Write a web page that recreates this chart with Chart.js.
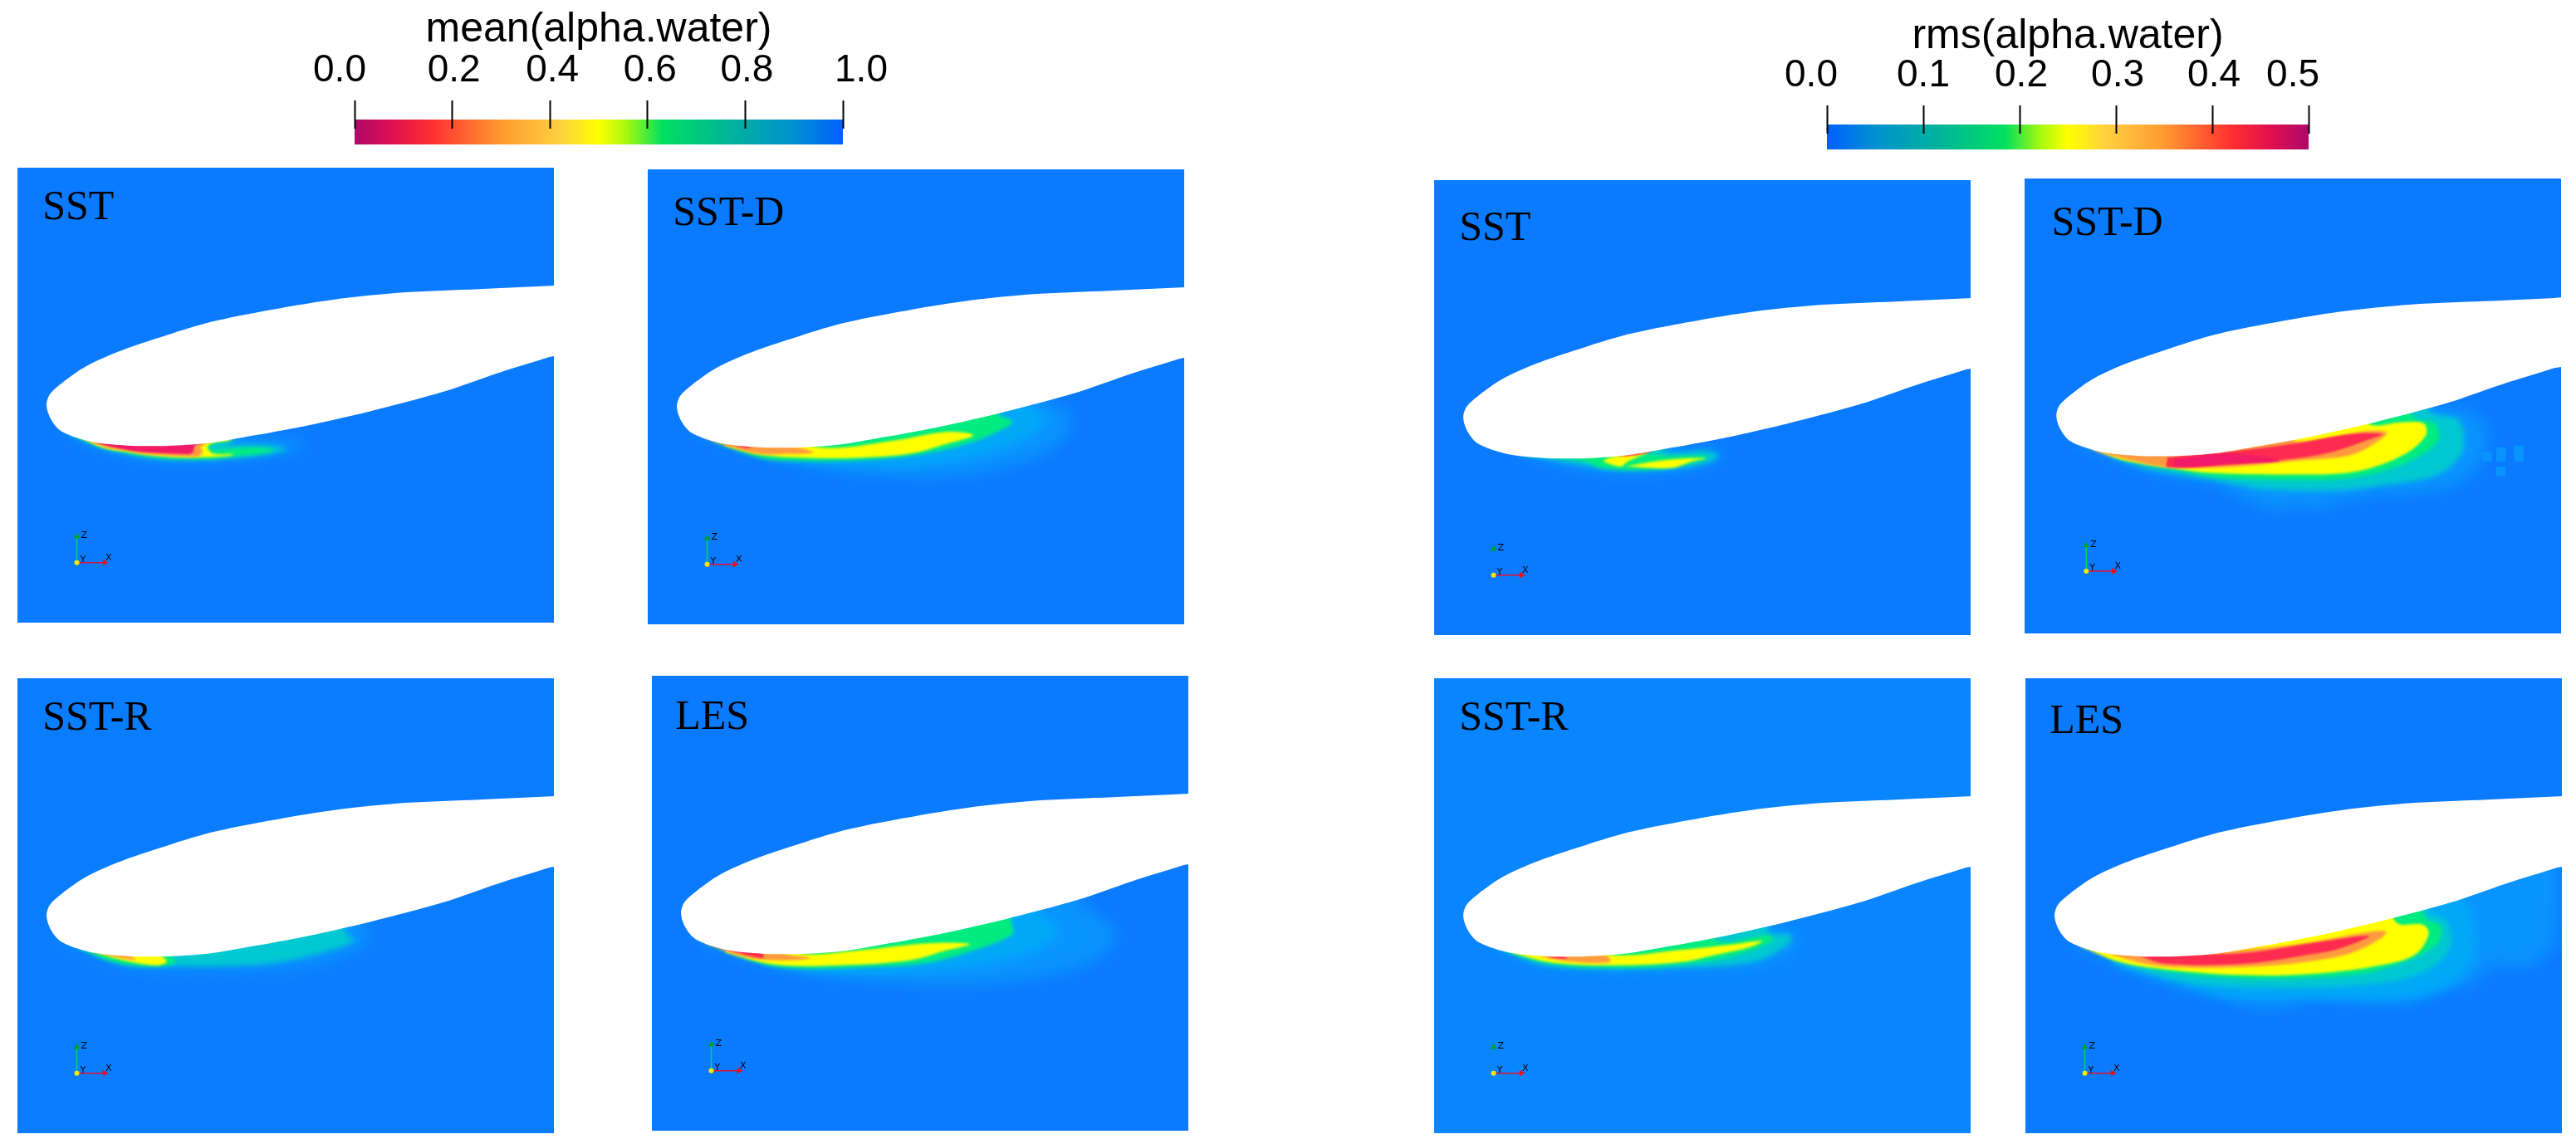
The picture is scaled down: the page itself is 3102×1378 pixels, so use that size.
<!DOCTYPE html>
<html>
<head>
<meta charset="utf-8">
<title>alpha.water contours</title>
<script src="https://cdn.jsdelivr.net/npm/chart.js@4/dist/chart.umd.js"></script>
<style>
html, body { margin: 0; padding: 0; background: #fff; width: 3102px; height: 1378px; overflow: hidden; }
canvas { position: absolute; display: block; }
</style>
</head>
<body>
<script>
// colour bars
const meanTicks = [0, 0.2, 0.4, 0.6, 0.8, 1];
const meanTickLabels = ['0.0', '0.2', '0.4', '0.6', '0.8', '1.0'];
const rmsTicks = [0, 0.1, 0.2, 0.3, 0.4, 0.5];
const rmsTickLabels = ['0.0', '0.1', '0.2', '0.3', '0.4', '0.5'];
const mapStops = [0, 0.08, 0.16, 0.3, 0.42, 0.5, 0.56, 0.63, 0.78, 0.9, 1];
const mapColors = ['#b0086a', '#e0104e', '#ff3030', '#ff9a30', '#ffd040', '#ffff00', '#a0f810', '#00e060', '#00b0a0', '#0090d0', '#0060ff'];

// foil outline, same in every panel (x, y in panel units)
const foilOutline = [[660,139],[646,140],[559,144],[470,148],[381,157],[291,172],[225,186],[158,207],[113,223],[77,240],[50,259],[35,273],[31,286],[35,301],[46,316],[62,324],[91,332],[135,336],[180,336],[225,333],[269,326],[336,314],[425,294],[515,270],[582,247],[646,227],[660,222]];

// iso regions, mean panels
const meanSstHalo = [[56,320],[92,338],[122,346],[152,353],[196,355],[262,353],[312,346],[346,338],[339,330],[296,326],[262,321],[230,300],[60,300]];
const meanSstCyan = [[58,320],[95,337],[125,345],[160,351],[200,353],[260,351],[300,347],[325,340],[300,335],[270,335],[250,333],[262,325],[240,315],[60,300]];
const meanSstGreen = [[62,322],[96,336],[126,344],[152,349],[189,352],[236,352],[262,349],[296,345],[309,341],[282,338],[249,340],[236,341],[229,337],[236,333],[259,327],[229,311],[62,311]];
const meanSstYellow = [[66,323],[99,338],[126,343],[152,347],[189,350],[226,350],[256,348],[259,346],[236,346],[229,341],[228,336],[236,332],[256,328],[229,311],[62,311]];
const meanSstOrange = [[69,323],[101,337],[129,342],[152,346],[196,349],[216,349],[222,343],[219,338],[226,333],[229,330],[196,311],[69,311]];
const meanSstCrimson = [[69,323],[101,335],[129,341],[152,344],[196,346],[209,345],[212,336],[221,331],[196,311],[69,311]];

const meanSstdHalo = [[55,319],[155,351],[250,367],[359,371],[445,356],[502,327],[510,293],[480,278],[480,250],[60,300]];
const meanSstdGlow = [[150,347],[215,356],[337,356],[415,341],[467,319],[480,301],[458,282],[440,240],[60,300]];
const meanSstdGreen = [[77,329],[133,349],[185,353],[268,351],[337,343],[393,329],[432,312],[441,304],[424,295],[400,250],[60,300]];
const meanSstdYellow = [[90,334],[133,345],[198,349],[268,348],[320,343],[359,332],[393,321],[359,317],[294,328],[207,336],[120,312],[90,310]];
const meanSstdOrange = [[64,324],[98,336],[133,344],[163,344],[198,342],[172,334],[120,319],[100,300]];
const meanSstdRed = [[59,321],[98,332],[120,336],[120,320],[60,305]];

const meanSstrHalo = [[50,315],[126,346],[202,352],[314,351],[381,339],[425,315],[417,300],[400,260],[60,300]];
const meanSstrCyan = [[55,317],[126,346],[180,348],[291,346],[358,334],[408,317],[399,310],[380,280],[60,300]];
const meanSstrGreen = [[62,321],[113,343],[167,348],[189,343],[180,334],[113,310],[62,300]];
const meanSstrYellow = [[64,322],[118,339],[164,347],[178,342],[160,330],[100,305]];
const meanSstrOrange = [[60,320],[100,333],[140,340],[113,325],[65,305]];

const meanLesHalo = [[50,319],[150,353],[288,371],[418,371],[527,349],[562,312],[527,279],[500,250],[60,300]];
const meanLesGlow = [[147,351],[223,360],[332,356],[418,345],[475,327],[492,304],[470,286],[450,245],[100,300]];
const meanLesGreen = [[58,321],[128,348],[180,354],[262,352],[332,347],[397,329],[436,312],[436,303],[420,260],[60,300]];
const meanLesYellow = [[85,334],[145,349],[223,350],[310,344],[354,332],[384,324],[332,323],[245,332],[180,336],[115,319],[100,310]];
const meanLesOrange = [[63,324],[110,340],[158,344],[189,341],[158,336],[115,319],[70,305]];
const meanLesRed = [[61,323],[106,336],[132,340],[115,320],[65,305]];

// iso regions, rms panels
const rmsSstHalo = [[93,329],[123,338],[175,350],[227,355],[297,351],[340,340],[349,329],[331,325],[288,322],[288,280],[100,300]];
const rmsSstCyan = [[101,331],[136,337],[171,344],[227,351],[297,348],[336,339],[342,331],[327,327],[275,326],[280,280],[100,300]];
const rmsSstGreen = [[106,332],[140,335],[180,340],[201,348],[253,350],[297,345],[327,337],[327,333],[275,333],[253,329],[279,323],[210,327],[180,310],[106,310]];
const rmsSstYellowStrip = [[123,333],[167,334],[195,333],[195,320],[123,320]];
const rmsSstYellowHead = [[201,340],[223,346],[232,340],[258,327],[227,331],[210,335]];
const rmsSstYellowTail = [[229,346],[284,348],[310,340],[327,336],[279,338],[240,344]];
const rmsSstRed = [[219,333],[236,333],[262,327],[253,325],[223,329]];

const rmsSstdHalo = [[56,320],[147,355],[225,370],[264,388],[307,403],[329,395],[350,403],[372,394],[437,383],[467,383],[528,370],[558,337],[561,296],[528,277],[493,273],[450,240],[60,300]];
const rmsSstdCyan = [[99,337],[147,353],[225,366],[285,377],[372,379],[437,372],[502,359],[533,329],[528,292],[493,281],[470,240],[100,300]];
const rmsSstdGreen = [[108,340],[168,351],[225,362],[329,366],[394,363],[459,346],[502,318],[498,296],[472,288],[450,240],[110,310]];
const rmsSstdYellow = [[62,321],[100,337],[129,344],[173,351],[221,357],[329,359],[402,355],[459,335],[487,311],[485,296],[459,294],[416,296],[400,260],[100,300]];
const rmsSstdOrange = [[77,329],[125,342],[168,350],[242,350],[329,342],[394,335],[428,318],[439,307],[416,305],[329,318],[300,300],[80,310]];
const rmsSstdRed = [[168,340],[168,350],[242,347],[329,339],[372,331],[416,316],[433,309],[394,309],[329,320],[242,331],[168,338]];
const rmsSstdCrimson = [[177,340],[177,349],[242,346],[307,342],[242,333]];
const rmsSstdSpots = [[580,331],[602,329],[563,337],[580,337],[602,337],[580,355]];

const rmsSstrHalo = [[71,324],[123,346],[188,354],[318,352],[405,346],[440,322],[440,308],[418,304],[400,270],[80,300]];
const rmsSstrCyan = [[75,326],[127,346],[188,351],[297,350],[384,343],[427,322],[431,310],[405,306],[390,270],[80,300]];
const rmsSstrGreen = [[84,330],[136,345],[210,350],[297,346],[362,335],[409,317],[403,310],[340,317],[320,280],[90,305]];
const rmsSstrYellow = [[91,332],[141,344],[219,347],[297,343],[340,334],[383,324],[396,317],[362,321],[297,328],[210,334],[130,310],[95,310]];
const rmsSstrOrange = [[119,335],[167,343],[210,343],[206,335],[145,334]];
const rmsSstrRed = [[132,337],[158,339],[149,335]];

const rmsLesHalo = [[55,321],[133,356],[219,382],[293,400],[350,389],[458,394],[501,378],[545,367],[562,348],[610,348],[644,315],[646,241],[646,200],[300,250],[60,300]];
const rmsLesGlow = [[111,348],[185,370],[241,385],[328,387],[458,387],[510,374],[540,345],[545,308],[536,275],[500,240],[110,300]];
const rmsLesCyan = [[102,343],[189,367],[284,374],[415,370],[480,356],[514,326],[510,293],[488,282],[470,240],[100,300]];
const rmsLesGreen = [[94,337],[154,352],[263,363],[393,359],[449,346],[497,322],[503,300],[484,289],[460,240],[95,305]];
const rmsLesYellow = [[63,324],[111,343],[167,352],[263,359],[350,357],[423,348],[471,334],[488,308],[480,297],[449,295],[430,260],[70,305]];
const rmsLesOrange = [[94,332],[146,346],[198,350],[284,348],[350,341],[393,332],[428,315],[436,306],[415,306],[328,321],[198,332]];
const rmsLesRed = [[133,335],[167,345],[263,345],[341,334],[380,326],[415,311],[350,319],[263,332],[177,334]];

// axis triad in each panel
const triadZLine = [[68,479],[68,447]];
const triadXLine = [[68,479],[102,479]];
const triadOrigin = [[68,479]];
const triadZTip = [[68,447]];
const triadXTip = [[102,479]];
const triadLetters = [['Z',73,449],['Y',72,478],['X',103,476]];

const layerColors = { halo: '#0a94ff', glow: '#00a8f8', cyan: '#00c8d0', green: '#00ec80', yellow: '#ffff00', orange: '#ff9a40', red: '#ff2a50', crimson: '#f01a68' };
const layerBlur = { halo: 9, glow: 6, cyan: 3, green: 2, yellow: 1.5, orange: 1.5, red: 1, crimson: 1 };

const panels = [
  { label: 'SST', labelX: 26, labelY: 58, left: 21, top: 202, bg: '#0a7aff', zLine: true,
    layers: [['halo', meanSstHalo], ['cyan', meanSstCyan], ['green', meanSstGreen], ['yellow', meanSstYellow], ['orange', meanSstOrange], ['crimson', meanSstCrimson]] },
  { label: 'SST-D', labelX: 26, labelY: 64, left: 780, top: 204, bg: '#0a7aff', zLine: true,
    layers: [['halo', meanSstdHalo], ['glow', meanSstdGlow], ['green', meanSstdGreen], ['yellow', meanSstdYellow], ['orange', meanSstdOrange], ['red', meanSstdRed]] },
  { label: 'SST-R', labelX: 26, labelY: 58, left: 21, top: 817, bg: '#0a7dff', zLine: true,
    layers: [['halo', meanSstrHalo], ['cyan', meanSstrCyan], ['green', meanSstrGreen], ['yellow', meanSstrYellow], ['orange', meanSstrOrange]] },
  { label: 'LES', labelX: 24, labelY: 61, left: 785, top: 814, bg: '#0a7aff', zLine: true,
    layers: [['halo', meanLesHalo], ['glow', meanLesGlow], ['green', meanLesGreen], ['yellow', meanLesYellow], ['orange', meanLesOrange], ['red', meanLesRed]] },
  { label: 'SST', labelX: 26, labelY: 69, left: 1727, top: 217, bg: '#0a7aff', zLine: false,
    layers: [['halo', rmsSstHalo], ['cyan', rmsSstCyan], ['green', rmsSstGreen], ['yellow', rmsSstYellowStrip], ['yellow', rmsSstYellowHead], ['yellow', rmsSstYellowTail], ['red', rmsSstRed]] },
  { label: 'SST-D', labelX: 25, labelY: 62, left: 2438, top: 215, bg: '#0a7aff', zLine: true, spots: rmsSstdSpots,
    layers: [['halo', rmsSstdHalo], ['cyan', rmsSstdCyan], ['green', rmsSstdGreen], ['yellow', rmsSstdYellow], ['orange', rmsSstdOrange], ['red', rmsSstdRed], ['crimson', rmsSstdCrimson]] },
  { label: 'SST-R', labelX: 26, labelY: 58, left: 1727, top: 817, bg: '#0885ff', zLine: false,
    layers: [['halo', rmsSstrHalo], ['cyan', rmsSstrCyan], ['green', rmsSstrGreen], ['yellow', rmsSstrYellow], ['orange', rmsSstrOrange], ['red', rmsSstrRed]] },
  { label: 'LES', labelX: 25, labelY: 63, left: 2439, top: 817, bg: '#0a7aff', zLine: true,
    layers: [['halo', rmsLesHalo], ['glow', rmsLesGlow], ['cyan', rmsLesCyan], ['green', rmsLesGreen], ['yellow', rmsLesYellow], ['orange', rmsLesOrange], ['red', rmsLesRed]] }
];

const panelWidth = 646;
const panelHeight = 548;

function toXY(pairs) {
  return pairs.map(function (p) { return { x: p[0], y: p[1] }; });
}

function addCanvas(left, top, width, height, bg) {
  const canvas = document.createElement('canvas');
  canvas.width = width;
  canvas.height = height;
  canvas.style.left = left + 'px';
  canvas.style.top = top + 'px';
  canvas.style.width = width + 'px';
  canvas.style.height = height + 'px';
  if (bg) canvas.style.background = bg;
  document.body.appendChild(canvas);
  return canvas.getContext('2d');
}

// fills closed line datasets using the element path, with an optional blur
const regionFill = {
  id: 'regionFill',
  afterDatasetDraw: function (chart, args) {
    const ds = chart.data.datasets[args.index];
    if (!ds.region) return;
    const line = args.meta.dataset;
    const ctx = chart.ctx;
    line.updateControlPoints(chart.chartArea);
    ctx.save();
    if (ds.blur) ctx.filter = 'blur(' + ds.blur + 'px)';
    ctx.beginPath();
    line.path(ctx);
    ctx.closePath();
    ctx.fillStyle = typeof ds.region === 'function' ? ds.region(chart) : ds.region;
    ctx.fill();
    ctx.restore();
  }
};

// model label and the X Y Z letters
const panelText = {
  id: 'panelText',
  afterDraw: function (chart, args, opts) {
    const ctx = chart.ctx;
    const sx = chart.scales.x;
    const sy = chart.scales.y;
    ctx.save();
    ctx.fillStyle = '#000';
    ctx.textBaseline = 'alphabetic';
    ctx.font = '50px "Liberation Serif"';
    ctx.fillText(opts.label, sx.getPixelForValue(opts.labelX), sy.getPixelForValue(opts.labelY));
    ctx.font = '11px "DejaVu Sans"';
    triadLetters.forEach(function (t) {
      ctx.fillText(t[0], sx.getPixelForValue(t[1]), sy.getPixelForValue(t[2]));
    });
    ctx.restore();
  }
};

function drawPanel(panel) {
  const ctx = addCanvas(panel.left, panel.top, panelWidth, panelHeight, panel.bg);
  const datasets = [];
  const base = { showLine: true, pointRadius: 0, borderWidth: 0, tension: 0.35, fill: false };
  panel.layers.forEach(function (layer) {
    datasets.push(Object.assign({}, base, {
      data: toXY(layer[1].concat([layer[1][0]])),
      region: layerColors[layer[0]],
      blur: layerBlur[layer[0]]
    }));
  });
  if (panel.spots) {
    datasets.unshift({ data: toXY(panel.spots), showLine: false, pointStyle: 'rect', pointRadius: 8, pointBorderWidth: 0, pointBackgroundColor: '#0a94ff' });
  }
  datasets.push(Object.assign({}, base, { data: toXY(foilOutline.concat([foilOutline[0]])), region: '#ffffff', tension: 0.3 }));
  if (panel.zLine) {
    datasets.push({ data: toXY(triadZLine), showLine: true, pointRadius: 0, borderColor: '#00d860', borderWidth: 1.5, tension: 0 });
  }
  datasets.push({ data: toXY(triadXLine), showLine: true, pointRadius: 0, borderColor: '#e01030', borderWidth: 1.5, tension: 0 });
  datasets.push({ data: toXY(triadZTip), pointStyle: 'triangle', pointRadius: 4.5, pointBorderWidth: 0, pointBackgroundColor: '#00a030' });
  datasets.push({ data: toXY(triadXTip), pointStyle: 'triangle', pointRotation: 90, pointRadius: 4.5, pointBorderWidth: 0, pointBackgroundColor: '#e8101c' });
  datasets.push({ data: toXY(triadOrigin), pointStyle: 'circle', pointRadius: 3, pointBorderWidth: 0, pointBackgroundColor: '#ffe800' });
  // later datasets go on top
  datasets.forEach(function (d, i) { d.order = datasets.length - i; });

  new Chart(ctx, {
    type: 'scatter',
    data: { datasets: datasets },
    plugins: [regionFill, panelText],
    options: {
      responsive: false,
      animation: false,
      events: [],
      layout: { padding: 0 },
      scales: {
        x: { type: 'linear', display: false, min: 0, max: panelWidth },
        y: { type: 'linear', display: false, min: 0, max: panelHeight, reverse: true }
      },
      plugins: {
        legend: { display: false },
        tooltip: { enabled: false },
        panelText: { label: panel.label, labelX: panel.labelX, labelY: panel.labelY }
      }
    }
  });
}

// end labels sit further out than their tick marks
const shiftLabels = {
  id: 'shiftLabels',
  beforeDraw: function (chart, args, opts) {
    const s = chart.scales.x;
    s.getLabelItems().forEach(function (item, i) {
      item.options.translation[0] = s.getPixelForValue(s.ticks[i].value) + opts.shift[i];
    });
  }
};

function drawColorBar(cfg) {
  const ctx = addCanvas(cfg.left, cfg.top, cfg.width, cfg.height);
  const domainEnd = cfg.ticks[cfg.ticks.length - 1];
  new Chart(ctx, {
    type: 'scatter',
    data: {
      datasets: [{
        data: [{ x: 0, y: -11 }, { x: domainEnd, y: -11 }, { x: domainEnd, y: 19 }, { x: 0, y: 19 }, { x: 0, y: -11 }],
        showLine: true, pointRadius: 0, borderWidth: 0, tension: 0, clip: false,
        region: function (chart) {
          const area = chart.chartArea;
          const g = chart.ctx.createLinearGradient(area.left, 0, area.right, 0);
          mapStops.forEach(function (t, i) {
            g.addColorStop(cfg.flip ? 1 - t : t, mapColors[i]);
          });
          return g;
        }
      }]
    },
    plugins: [regionFill, shiftLabels],
    options: {
      responsive: false,
      animation: false,
      events: [],
      layout: { padding: { left: cfg.padLeft, right: cfg.padRight, top: 0, bottom: cfg.padBottom } },
      scales: {
        x: {
          type: 'linear',
          position: 'top',
          min: 0,
          max: domainEnd,
          afterBuildTicks: function (scale) {
            scale.ticks = cfg.ticks.map(function (v) { return { value: v }; });
          },
          afterFit: function (scale) { scale.height = cfg.axisHeight; },
          border: { display: false },
          grid: { drawOnChartArea: false, tickLength: 34, tickColor: '#000', tickWidth: 2, z: 1 },
          ticks: {
            autoSkip: false,
            maxRotation: 0,
            padding: cfg.labelPad,
            color: '#000',
            font: { family: '"Liberation Sans"', size: 46 },
            callback: function (v, i) { return cfg.labels[i]; }
          },
          title: {
            display: true,
            text: cfg.title,
            color: '#000',
            font: { family: '"Liberation Sans"', size: 50 },
            padding: { top: cfg.titlePad, bottom: 0 }
          }
        },
        y: { type: 'linear', display: false, min: 0, max: 19, reverse: true }
      },
      plugins: {
        legend: { display: false },
        tooltip: { enabled: false },
        shiftLabels: { shift: cfg.shift }
      }
    }
  });
}

panels.forEach(drawPanel);

drawColorBar({
  left: 340, top: 0, width: 740, height: 180, padLeft: 87, padRight: 65, padBottom: 6,
  axisHeight: 155, labelPad: 8, titlePad: 6, title: 'mean(alpha.water)',
  ticks: meanTicks, labels: meanTickLabels, shift: [-18, 2, 3, 3, 2, 22], flip: false
});
drawColorBar({
  left: 2100, top: 0, width: 720, height: 186, padLeft: 100, padRight: 36, padBottom: 6,
  axisHeight: 161, labelPad: 8, titlePad: 14, title: 'rms(alpha.water)',
  ticks: rmsTicks, labels: rmsTickLabels, shift: [-19, 0, 2, 2, 2, -19], flip: true
});
</script>
</body>
</html>
